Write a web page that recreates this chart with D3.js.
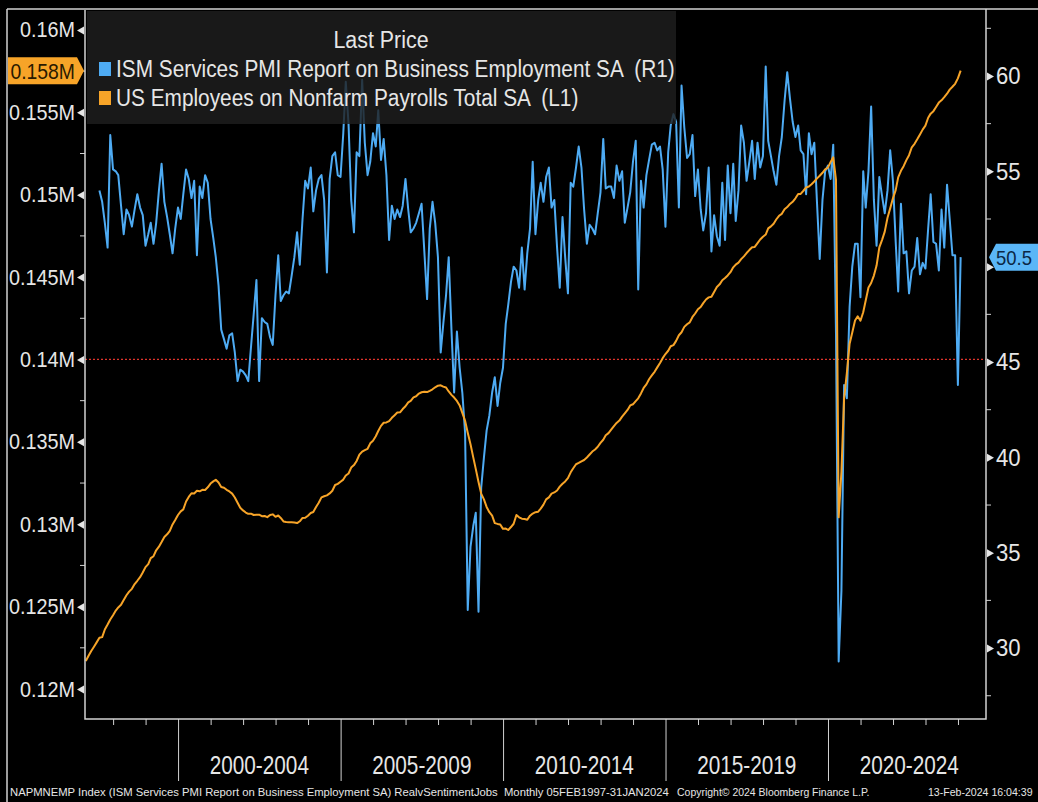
<!DOCTYPE html>
<html>
<head>
<meta charset="utf-8">
<script src="https://cdn.jsdelivr.net/npm/d3@7"></script>
<style>
  body { margin: 0; background: #000; }
  svg { display: block; font-family: "Liberation Sans", Arial, sans-serif; }
  text { white-space: pre; }
</style>
</head>
<body>
<svg width="1038" height="802"></svg>
<script>
// US Employees on Nonfarm Payrolls Total SA, thousands, monthly from Feb 1997
var payrolls = [
    121700, 122020, 122310, 122570, 122830, 123110, 123150, 123610, 123910, 124220, 124480,
    124760, 124950, 125110, 125400, 125690, 125910, 126080, 126370, 126570, 126790, 127070, 127400,
    127580, 127940, 128060, 128420, 128640, 128920, 129230, 129390, 129600, 129990, 130260, 130560,
    130780, 130900, 131380, 131660, 131880, 131870, 132030, 132000, 132090, 132080, 132240, 132470,
    132600, 132700, 132530, 132260, 132220, 132090, 131990, 131860, 131620, 131300, 131000, 130840,
    130710, 130630, 130640, 130560, 130580, 130580, 130490, 130500, 130430, 130560, 130600, 130450,
    130530, 130380, 130170, 130140, 130120, 130120, 130110, 130070, 130180, 130380, 130390, 130520,
    130680, 130740, 131050, 131300, 131630, 131700, 131750, 131870, 132030, 132380, 132450, 132580,
    132710, 132960, 133080, 133440, 133590, 133840, 134220, 134410, 134500, 134580, 134910, 135070,
    135340, 135660, 135970, 136160, 136180, 136260, 136460, 136620, 136780, 136790, 136990, 137160,
    137400, 137490, 137700, 137770, 137930, 138010, 138040, 138020, 138100, 138190, 138310, 138410,
    138430, 138350, 138300, 138060, 137850, 137690, 137480, 137210, 136760, 136280, 135550, 134850,
    134060, 133360, 132560, 131860, 131510, 131050, 130730, 130520, 130070, 130020, 129990, 129720,
    129740, 129650, 129830, 130030, 130560, 130420, 130340, 130320, 130270, 130520, 130650, 130730,
    130760, 130950, 131190, 131510, 131630, 131860, 131930, 132050, 132280, 132460, 132600, 132800,
    133150, 133400, 133640, 133720, 133820, 133900, 134050, 134230, 134410, 134540, 134700, 134940,
    135130, 135400, 135530, 135740, 135960, 136150, 136290, 136530, 136730, 136940, 137210, 137280,
    137470, 137640, 137940, 138270, 138490, 138800, 139030, 139250, 139520, 139790, 140080, 140330,
    140530, 140800, 140870, 141130, 141470, 141650, 141980, 142140, 142250, 142580, 142790, 143050,
    143180, 143420, 143640, 143770, 143810, 144100, 144400, 144560, 144810, 144940, 145100, 145300,
    145590, 145760, 145880, 146090, 146260, 146460, 146640, 146810, 146830, 147060, 147280, 147450,
    147580, 147960, 148080, 148240, 148510, 148720, 148840, 149120, 149250, 149440, 149570, 149780,
    150040, 150050, 150240, 150440, 150500, 150640, 150800, 150990, 151150, 151330, 151540, 151640,
    151990, 152270, 150900, 130420, 133180, 137640, 139170, 140960, 141640, 142370, 142620, 142350,
    142870, 143580, 144370, 144640, 145090, 145700, 146800, 147260, 147760, 148600, 149170, 149780,
    150280, 151050, 151450, 151730, 152100, 152400, 152880, 153090, 153360, 153660, 153950, 154190,
    154670, 154920, 155070, 155320, 155590, 155730, 155920, 156130, 156380, 156550, 156730, 157060,
    157530
];

// ISM Services PMI Report on Business Employment SA, monthly from Jul 1997
var ismEmployment = [
    54.0, 53.4, 52.3, 51.0, 56.9, 55.1,
    55.0, 54.8, 53.2, 51.7, 53.0, 52.7, 52.1, 53.0, 53.8, 53.1, 52.7, 51.1,
    51.7, 52.3, 51.2, 52.3, 54.0, 55.4, 53.4, 52.6, 51.7, 50.7, 52.0, 53.1,
    52.5, 53.8, 55.1, 54.6, 53.6, 54.5, 50.6, 54.2, 53.6, 54.8, 54.4, 52.5,
    51.5, 50.5, 49.0, 46.7, 46.2, 45.7, 46.4, 46.5, 45.5, 44.0, 44.6, 44.5,
    44.3, 44.0, 45.8, 47.5, 49.3, 44.0, 47.3, 47.1, 47.0, 46.3, 45.9, 48.5,
    50.6, 48.2, 48.5, 48.7, 48.6, 49.5, 50.5, 51.8, 50.1, 52.5, 54.5, 54.1,
    55.2, 52.9, 54.0, 54.6, 54.8, 53.5, 49.7, 54.6, 55.8, 56.0, 54.8, 54.7,
    57.0, 59.7, 57.5, 53.5, 51.8, 56.0, 55.8, 59.8, 56.5, 54.8, 55.5, 57.0,
    56.3, 58.2, 55.6, 56.7, 54.8, 51.4, 53.2, 52.5, 53.0, 52.6, 53.2, 54.6,
    53.0, 51.8, 52.0, 52.3, 52.8, 53.3, 50.8, 48.3, 52.0, 53.4, 52.3, 50.5,
    45.5, 47.0, 48.5, 50.5, 46.7, 43.4, 46.6, 44.7, 43.4, 41.3, 32.0, 35.3,
    36.4, 37.1, 31.9, 38.4, 40.0, 41.4, 42.2, 43.4, 44.2, 42.7, 43.9, 44.7,
    47.0, 48.0, 49.2, 50.0, 49.8, 48.9, 51.0, 48.8, 50.7, 52.0, 55.5, 51.7,
    53.5, 54.4, 53.4, 54.7, 55.2, 53.1, 53.5, 51.0, 48.9, 52.6, 50.5, 48.6,
    54.4, 54.2, 55.2, 56.3, 55.2, 53.0, 51.2, 52.2, 52.0, 51.7, 52.8, 53.9,
    56.7, 54.1, 54.2, 54.2, 53.6, 55.3, 54.5, 55.0, 52.3, 53.1, 53.9, 55.5,
    56.6, 48.8, 54.5, 53.1, 54.8, 55.6, 56.4, 56.5, 56.1, 56.3, 55.1, 52.1,
    56.0, 57.4, 58.0, 57.6, 53.1, 59.5, 57.3, 55.7, 55.9, 56.9, 53.7, 55.1,
    53.0, 51.9, 52.8, 55.2, 50.8, 52.7, 51.6, 51.1, 54.4, 51.4, 55.3, 52.8,
    55.4, 52.4, 54.0, 57.4, 56.5, 54.5, 55.5, 56.6, 54.6, 56.5, 55.2, 55.8,
    60.5, 56.6, 55.8, 55.0, 54.3, 55.8, 56.8, 58.7, 60.2, 58.8, 57.6, 56.8,
    57.4, 56.1, 55.9, 53.8, 57.0, 55.9, 56.5, 53.3, 50.4, 53.5, 55.0, 55.3,
    54.6, 56.4, 46.5, 29.3, 33.0, 43.8, 43.1, 47.9, 50.0, 51.2, 51.2, 48.4,
    55.0, 53.1, 55.0, 58.4, 53.5, 51.1, 54.7, 53.7, 52.8, 54.0, 56.1, 54.5,
    51.3, 48.7, 53.3, 50.7, 50.8, 48.6, 49.8, 50.0, 51.5, 49.6, 50.2, 49.9,
    52.0, 53.8, 51.3, 51.2, 49.8, 53.0, 51.0, 54.3, 52.5, 50.6, 50.6, 43.8,
    50.5
];

var payrollsStart = [1997, 2];   // year, month of first value
var ismStart = [1997, 7];

var leftTicks = [120000, 125000, 130000, 135000, 140000, 145000, 150000, 155000, 160000];
var leftTickLabels = ["0.12M", "0.125M", "0.13M", "0.135M", "0.14M", "0.145M", "0.15M", "0.155M", "0.16M"];
var leftMinorTicks = [122500, 127500, 132500, 137500, 142500, 147500, 152500, 157500];
var rightTicks = [30, 35, 40, 45, 50, 55, 60];
var rightMinorTicks = [27.5, 32.5, 37.5, 42.5, 47.5, 52.5, 57.5, 62.5];
var yearTicks = d3.range(1998, 2025);
var periodStarts = [2000, 2005, 2010, 2015, 2020];
var periodLabels = ["2000-2004", "2005-2009", "2010-2014", "2015-2019", "2020-2024"];

var canvas = d3.select("svg");
var iWidth = +canvas.attr("width");
var iHeight = +canvas.attr("height");

var plot = { left: 85, right: 986, top: 10, bottom: 719 };

var colorIsm = "#4eabf3";
var colorPayrolls = "#f7a428";
var colorAxis = "#d2d2d2";
var colorText = "#e6e6e6";

// squeeze text horizontally, the terminal font is a narrow one
function condense(sel, k) {
    sel.each(function () {
        var w = this.getComputedTextLength();
        d3.select(this).attr("textLength", w * k).attr("lengthAdjust", "spacingAndGlyphs");
    });
}

// month-end dates for each series
function monthDates(start, n) {
    return d3.range(n).map(i => new Date(start[0], start[1] - 1 + i + 1, 0));
}
var payrollDates = monthDates(payrollsStart, payrolls.length);
var ismDates = monthDates(ismStart, ismEmployment.length);

var xScale = d3.scaleTime()
    .domain([new Date(1997, 1, 19), new Date(2024, 10, 11)])
    .range([plot.left, plot.right]);

var yLeft = d3.scaleLinear()
    .domain([118180, 161210])
    .range([plot.bottom, plot.top]);

var yRight = d3.scaleLinear()
    .domain([26.28, 63.46])
    .range([plot.bottom, plot.top]);

var lastPay = payrolls[payrolls.length - 1];
var lastIsm = ismEmployment[ismEmployment.length - 1];

// outer frame
canvas.append("rect").attr("width", iWidth).attr("height", iHeight).attr("fill", "#000");
canvas.append("line").attr("x1", 7).attr("x2", iWidth).attr("y1", 9).attr("y2", 9)
    .attr("stroke", colorAxis).attr("stroke-width", 1.5);
canvas.append("line").attr("x1", 7).attr("x2", 7).attr("y1", 9).attr("y2", iHeight)
    .attr("stroke", colorAxis).attr("stroke-width", 1.5);

// reference line
canvas.append("line")
    .attr("x1", plot.left).attr("x2", plot.right)
    .attr("y1", yLeft(140000)).attr("y2", yLeft(140000))
    .attr("stroke", "#e0342c").attr("stroke-width", 1.2)
    .attr("stroke-dasharray", "2,2");

// lines
var ismLine = d3.line()
    .x((d, i) => xScale(ismDates[i]))
    .y(d => yRight(d));
var payLine = d3.line()
    .x((d, i) => xScale(payrollDates[i]))
    .y(d => yLeft(d));

canvas.append("path")
    .datum(ismEmployment)
    .attr("d", ismLine)
    .attr("fill", "none")
    .attr("stroke", colorIsm)
    .attr("stroke-width", 2)
    .attr("stroke-linejoin", "round");

canvas.append("path")
    .datum(payrolls)
    .attr("d", payLine)
    .attr("fill", "none")
    .attr("stroke", colorPayrolls)
    .attr("stroke-width", 2)
    .attr("stroke-linejoin", "round");

// legend
var legend = canvas.append("g");
legend.append("rect")
    .attr("x", plot.left + 2).attr("y", plot.top + 1)
    .attr("width", 589).attr("height", 113)
    .attr("fill", "rgba(30,30,30,0.82)");
legend.append("text")
    .attr("x", 381).attr("y", 48)
    .attr("text-anchor", "middle")
    .attr("font-size", 23)
    .attr("fill", colorText)
    .text("Last Price")
    .call(condense, 0.93);
var legendItems = [
    { color: colorIsm, label: "ISM Services PMI Report on Business Employment SA  (R1)" },
    { color: colorPayrolls, label: "US Employees on Nonfarm Payrolls Total SA  (L1)" }
];
legendItems.forEach(function (item, i) {
    legend.append("rect")
        .attr("x", 99).attr("y", 62 + i * 29)
        .attr("width", 12).attr("height", 14)
        .attr("fill", item.color);
    legend.append("text")
        .attr("x", 116).attr("y", 77 + i * 29)
        .attr("font-size", 23)
        .attr("fill", colorText)
        .text(item.label)
        .call(condense, 0.905);
});

// left axis
var leftAxis = canvas.append("g")
    .attr("transform", `translate(${plot.left},0)`)
    .call(d3.axisLeft(yLeft).tickValues(leftTicks).tickSize(0).tickPadding(10)
        .tickFormat((d, i) => leftTickLabels[i]));
leftAxis.select(".domain").remove();
leftAxis.selectAll(".tick text").attr("font-size", 22).attr("fill", colorText)
    .attr("font-family", null)
    .call(condense, 0.9);
leftAxis.selectAll(".tick").append("path")
    .attr("d", "M-1,-4L-8,0L-1,4Z").attr("fill", colorText);
leftAxis.selectAll(".minor").data(leftMinorTicks).enter().append("line")
    .attr("x1", -5).attr("x2", 0)
    .attr("y1", d => yLeft(d)).attr("y2", d => yLeft(d))
    .attr("stroke", colorAxis);

// right axis (the label hidden under the last-value box is left out)
var rightAxis = canvas.append("g")
    .attr("transform", `translate(${plot.right},0)`)
    .call(d3.axisRight(yRight).tickValues(rightTicks).tickSize(0).tickPadding(10));
rightAxis.select(".domain").remove();
rightAxis.selectAll(".tick text").attr("font-size", 24).attr("fill", colorText)
    .attr("font-family", null)
    .call(condense, 0.92);
rightAxis.selectAll(".tick text")
    .filter(d => Math.abs(yRight(d) - yRight(lastIsm)) < 22)
    .remove();
rightAxis.selectAll(".tick").append("path")
    .attr("d", "M1,-4L8,0L1,4Z").attr("fill", colorText);
rightAxis.selectAll(".minor").data(rightMinorTicks).enter().append("line")
    .attr("x1", 0).attr("x2", 5)
    .attr("y1", d => yRight(d)).attr("y2", d => yRight(d))
    .attr("stroke", colorAxis);

// bottom axis
var bottomAxis = canvas.append("g")
    .attr("transform", `translate(0,${plot.bottom})`)
    .call(d3.axisBottom(xScale).tickValues(yearTicks.map(y => new Date(y, 0, 1)))
        .tickSize(6).tickFormat(""));
bottomAxis.select(".domain").remove();
bottomAxis.selectAll(".tick line")
    .attr("stroke", colorAxis)
    .attr("y2", d => periodStarts.indexOf(d.getFullYear()) >= 0 ? 62 : 6);
bottomAxis.selectAll(".period").data(periodStarts).enter().append("text")
    .attr("x", d => (xScale(new Date(d, 0, 1)) + xScale(new Date(d + 5, 0, 1))) / 2)
    .attr("y", 55)
    .attr("text-anchor", "middle")
    .attr("font-size", 25)
    .attr("fill", colorText)
    .text((d, i) => periodLabels[i])
    .call(condense, 0.83);

// plot frame
canvas.append("path")
    .attr("d", `M${plot.left},${plot.top}V${plot.bottom}H${plot.right}V${plot.top - 1}`)
    .attr("fill", "none")
    .attr("stroke", colorAxis)
    .attr("stroke-width", 1.5);

// last value markers
var yp = yLeft(lastPay);
canvas.append("path")
    .attr("d", `M8,${yp - 13.5}H77L84,${yp}L77,${yp + 13.5}H8Z`)
    .attr("fill", colorPayrolls);
canvas.append("text")
    .attr("x", 75).attr("y", yp).attr("dy", "0.36em")
    .attr("text-anchor", "end")
    .attr("font-size", 22)
    .attr("fill", "#2a1a00")
    .text((Math.round(lastPay / 1000) / 1000) + "M")
    .call(condense, 0.88);

var yi = yRight(lastIsm);
canvas.append("path")
    .attr("d", `M${plot.right + 3},${yi}L${plot.right + 10},${yi - 13.5}H${iWidth}V${yi + 13.5}H${plot.right + 10}Z`)
    .attr("fill", "#5ab6f7");
canvas.append("text")
    .attr("x", plot.right + 10).attr("y", yi).attr("dy", "0.36em")
    .attr("font-size", 21)
    .attr("fill", "#0b2746")
    .text(lastIsm.toFixed(1))
    .call(condense, 0.88);

// footer
var footer = canvas.append("g").attr("font-size", 11.5).attr("fill", colorText);
footer.append("text").attr("x", 10).attr("y", 796)
    .text("NAPMNEMP Index (ISM Services PMI Report on Business Employment SA) RealvSentimentJobs  Monthly 05FEB1997-31JAN2024")
    .call(condense, 0.98);
footer.append("text").attr("x", 677).attr("y", 796)
    .text("Copyright\u00A9 2024 Bloomberg Finance L.P.")
    .call(condense, 0.91);
footer.append("text").attr("x", 928).attr("y", 796)
    .attr("font-size", 11)
    .text("13-Feb-2024 16:04:39")
    .call(condense, 0.96);
</script>
</body>
</html>
